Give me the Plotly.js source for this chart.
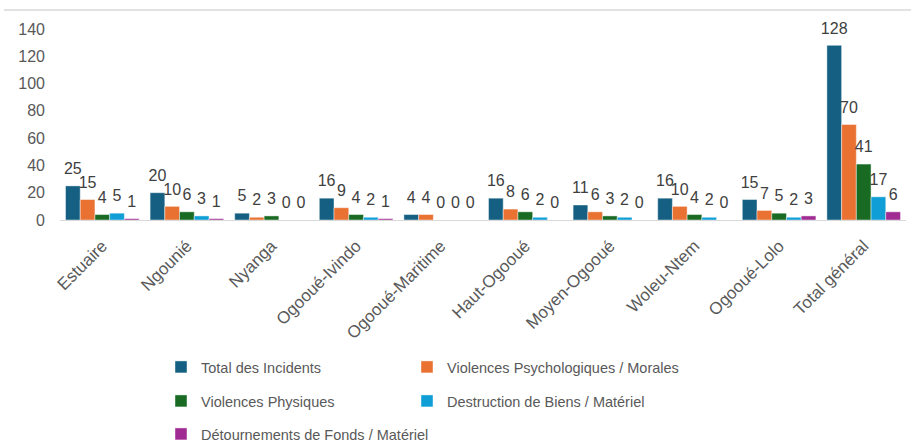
<!DOCTYPE html>
<html>
<head>
<meta charset="utf-8">
<script src="https://cdn.plot.ly/plotly-3.0.1.min.js"></script>
<style>html,body{margin:0;padding:0;background:#fff}#chart{width:911px;height:445px}</style>
</head>
<body>
<div id="chart"></div>
<script>
const categories = ["Estuaire","Ngounié","Nyanga","Ogooué-Ivindo","Ogooué-Maritime","Haut-Ogooué","Moyen-Ogooué","Woleu-Ntem","Ogooué-Lolo","Total général"];
const seriesNames = ["Total des Incidents","Violences Psychologiques / Morales","Violences Physiques","Destruction de Biens / Matériel","Détournements de Fonds / Matériel"];
const totalIncidents = [25,20,5,16,4,16,11,16,15,128];
const violencesPsy = [15,10,2,9,4,8,6,10,7,70];
const violencesPhys = [4,6,3,4,0,6,3,4,5,41];
const destruction = [5,3,0,2,0,2,2,2,2,17];
const detournements = [1,1,0,1,0,0,0,0,3,6];
const yTicks = [0,20,40,60,80,100,120,140];

const colors = ["#156082","#E97132","#196B24","#0F9ED5","#A02B93"];
const values = [totalIncidents, violencesPsy, violencesPhys, destruction, detournements];
const legendIds = ["legend","legend2","legend3","legend4","legend5"];
const font = "Liberation Sans, Arial, sans-serif";

const traces = values.map((v,i)=>({
  type:"bar",
  name: seriesNames[i],
  x: categories,
  y: v,
  text: v.map(n => '<span style="font-size:16px">' + n + '</span><br>\u00A0'),
  textposition: "outside",
  textangle: 0,
  constraintext: "none",
  cliponaxis: false,
  textfont: {family: font, size: 6, color: "#404040"},
  marker: {color: colors[i], line: {color: "rgba(255,255,255,0.55)", width: 0.8}},
  legend: legendIds[i],
  showlegend: true,
  hoverinfo: "x+y+name"
}));

const L = 60, R = 5, T = 29, B = 225;
function pxp(px){ return (px - L) / (911 - L - R); }
function pyPaper(px){ return (220 - px) / (445 - T - B); }
function cy(px){ return 1 - px / 445; }

const legendCommon = {
  orientation: "h",
  xanchor: "left",
  yanchor: "middle",
  yref: "container",
  font: {family: font, size: 14.5, color: "#595959"},
  bgcolor: "rgba(0,0,0,0)",
  itemclick: false, itemdoubleclick: false,
  visible: true
};
const col1 = pxp(161), col2 = pxp(407);

const layout = {
  width: 911, height: 445,
  margin: {l: L, r: R, t: T, b: B},
  paper_bgcolor: "#ffffff",
  plot_bgcolor: "#ffffff",
  showlegend: true,
  barmode: "group",
  bargap: 0.13,
  bargroupgap: 0,
  font: {family: font, color: "#595959"},
  xaxis: {
    type: "category",
    tickangle: -45,
    tickfont: {family: font, size: 17, color: "#595959"},
    ticklabelstandoff: 8,
    showline: true, linecolor: "#d9d9d9", linewidth: 1.3,
    showgrid: false, ticks: "", fixedrange: true
  },
  yaxis: {
    range: [0, 140],
    tickvals: yTicks,
    tickfont: {family: font, size: 16, color: "#595959"},
    showgrid: false, zeroline: false, showline: false,
    ticklabelstandoff: 14, fixedrange: true
  },
  legend:  Object.assign({}, legendCommon, {x: col1, y: cy(367)}),
  legend2: Object.assign({}, legendCommon, {x: col2, y: cy(367)}),
  legend3: Object.assign({}, legendCommon, {x: col1, y: cy(401)}),
  legend4: Object.assign({}, legendCommon, {x: col2, y: cy(401)}),
  legend5: Object.assign({}, legendCommon, {x: col1, y: cy(434)}),
  shapes: [{
    type: "line", xref: "paper", yref: "paper",
    x0: pxp(4), x1: pxp(911), y0: pyPaper(10), y1: pyPaper(10),
    line: {color: "#d9d9d9", width: 1.5}
  }]
};

Plotly.newPlot("chart", traces, layout, {displayModeBar: false, staticPlot: true});
</script>
</body>
</html>
